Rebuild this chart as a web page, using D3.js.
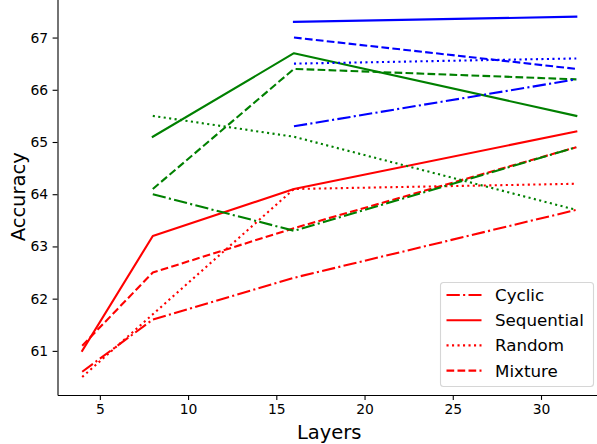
<!DOCTYPE html>
<html>
<head>
<meta charset="utf-8">
<script src="https://cdn.jsdelivr.net/npm/d3@7"></script>
<style>
  body { margin: 0; background: #fff; }
  svg { display: block; font-family: "DejaVu Sans", sans-serif; }
</style>
</head>
<body>
<div id="chart"></div>
<script>
// layer counts on the x axis
const layers = [4, 8, 16, 32];

// accuracy per strategy, null where there is no run
const redCyclic     = [60.6, 61.6, 62.4, 63.7];
const redSequential = [61.0, 63.2, 64.1, 65.2];
const redRandom     = [60.5, 61.7, 64.1, 64.2];
const redMixture    = [61.1, 62.5, 63.35, 64.9];

const greenCyclic     = [null, 64.0, 63.3, 64.9];
const greenSequential = [null, 65.1, 66.7, 65.5];
const greenRandom     = [null, 65.5, 65.1, 63.7];
const greenMixture    = [null, 64.1, 66.4, 66.2];

const blueCyclic     = [null, null, 65.3, 66.2];
const blueSequential = [null, null, 67.3, 67.4];
const blueRandom     = [null, null, 66.5, 66.6];
const blueMixture    = [null, null, 67.0, 66.4];

const strategies = ["Cyclic", "Sequential", "Random", "Mixture"];
const xTicks = [5, 10, 15, 20, 25, 30];
const yTicks = [61, 62, 63, 64, 65, 66, 67];

// line styles (matplotlib-ish, in px)
const dashes = {
  Cyclic: "13.3,3.3,2.1,3.3",
  Sequential: null,
  Random: "2.1,3.4",
  Mixture: "7.7,3.3"
};

const series = [
  {color: "#ff0000", name: "Cyclic", values: redCyclic},
  {color: "#ff0000", name: "Sequential", values: redSequential},
  {color: "#ff0000", name: "Random", values: redRandom},
  {color: "#ff0000", name: "Mixture", values: redMixture},
  {color: "#008000", name: "Cyclic", values: greenCyclic},
  {color: "#008000", name: "Sequential", values: greenSequential},
  {color: "#008000", name: "Random", values: greenRandom},
  {color: "#008000", name: "Mixture", values: greenMixture},
  {color: "#0000ff", name: "Cyclic", values: blueCyclic},
  {color: "#0000ff", name: "Sequential", values: blueSequential},
  {color: "#0000ff", name: "Random", values: blueRandom},
  {color: "#0000ff", name: "Mixture", values: blueMixture}
];

const W = 597, H = 444;
const svg = d3.select("#chart").append("svg")
  .attr("width", W)
  .attr("height", H);

const x = d3.scaleLinear().domain([2.6, 33.4]).range([57.5, 601]);
const y = d3.scaleLinear().domain([60.155, 67.745]).range([395, -1.35]);

// lines
const line = d3.line()
  .defined(d => d.v != null)
  .x(d => x(d.l))
  .y(d => y(d.v));

svg.append("g")
  .selectAll("path")
  .data(series)
  .join("path")
    .attr("d", s => line(s.values.map((v, i) => ({l: layers[i], v: v}))))
    .attr("fill", "none")
    .attr("stroke", s => s.color)
    .attr("stroke-width", 2.1)
    .attr("stroke-dasharray", s => dashes[s.name])
    .attr("stroke-linejoin", "round")
    .attr("stroke-linecap", s => dashes[s.name] ? "butt" : "square");

// axes
const xAxis = svg.append("g")
  .attr("transform", `translate(0,${y.range()[0]})`)
  .call(d3.axisBottom(x).tickValues(xTicks).tickSizeInner(4.9).tickSizeOuter(0).tickPadding(4.5).tickFormat(d3.format("d")));
const yAxis = svg.append("g")
  .attr("transform", `translate(${x.range()[0]},0)`)
  .call(d3.axisLeft(y).tickValues(yTicks).tickSizeInner(4.9).tickSizeOuter(0).tickPadding(4.5).tickFormat(d3.format("d")));

[xAxis, yAxis].forEach(a => {
  a.select(".domain").attr("stroke", "#000").attr("stroke-width", 1.1);
  a.selectAll(".tick line").attr("stroke", "#000").attr("stroke-width", 1.1);
  a.selectAll(".tick text")
    .attr("fill", "#000")
    .style("font-family", "DejaVu Sans")
    .style("font-size", "13.9px");
});

// axis titles
svg.append("text")
  .attr("x", (x.range()[0] + x.range()[1]) / 2)
  .attr("y", 439)
  .attr("text-anchor", "middle")
  .style("font-size", "19.5px")
  .text("Layers");

svg.append("text")
  .attr("transform", `translate(25,${(y.range()[0] + y.range()[1]) / 2}) rotate(-90)`)
  .attr("text-anchor", "middle")
  .style("font-size", "19.5px")
  .text("Accuracy");

// legend
const legend = svg.append("g").attr("transform", "translate(440.5,282.5)");
legend.append("rect")
  .attr("width", 153)
  .attr("height", 104)
  .attr("rx", 3)
  .attr("fill", "#fff")
  .attr("fill-opacity", 0.8)
  .attr("stroke", "#d6d6d6")
  .attr("stroke-width", 1.1);

const item = legend.selectAll("g.item")
  .data(strategies)
  .join("g")
    .attr("class", "item")
    .attr("transform", (d, i) => `translate(0,${12.5 + i * 25.2})`);

item.append("line")
  .attr("x1", 6).attr("x2", 41)
  .attr("stroke", "#ff0000")
  .attr("stroke-width", 2.1)
  .attr("stroke-dasharray", d => dashes[d]);

item.append("text")
  .attr("x", 54.5)
  .attr("dy", "0.36em")
  .style("font-size", "16.7px")
  .text(d => d);
</script>
</body>
</html>
